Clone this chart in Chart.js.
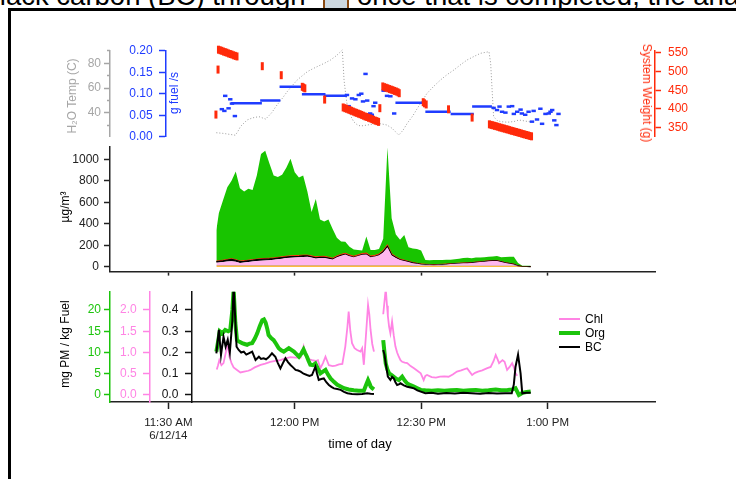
<!DOCTYPE html>
<html>
<head>
<meta charset="utf-8">
<script src="https://cdn.jsdelivr.net/npm/chart.js@4.4.1/dist/chart.umd.min.js"></script>
<style>
  body { margin: 0; background: #fff; font-family: 'Liberation Sans', Arial, sans-serif; }
  #page { position: relative; width: 736px; height: 479px; overflow: hidden; background: #fff; }
  canvas { position: absolute; left: 0; top: 0; }
  #frame { position: absolute; left: 8px; top: 8px; width: 900px; height: 700px; border-left: 3px solid #000; border-top: 3px solid #000; }
  .doc { position: absolute; top: -18.5px; font-size: 27.5px; line-height: 28px; white-space: nowrap; color: #000; }
  #pic { position: absolute; left: 323px; top: -5px; width: 22px; height: 13px; background: #ccd7df; border-left: 2.5px solid #8a4a12; border-right: 2.5px solid #8a4a12; }
  .ttl { position: absolute; font-size: 12px; white-space: nowrap; transform: translate(-50%, -50%) rotate(-90deg); }
  .ttl.cw { transform: translate(-50%, -50%) rotate(90deg); }
  .leg { position: absolute; font-size: 12px; line-height: 14px; }
  .legline { position: absolute; left: 559px; width: 21px; }
</style>
</head>
<body>
<div id="page">
  <div class="doc" style="left:-15.5px;">black carbon (BC) through</div>
  <div id="pic"></div>
  <div class="doc" style="left:357px;">once that is completed, the analysis</div>
  <div id="frame"></div>

  <canvas id="cTop" width="736" height="479"></canvas>
  <canvas id="cMid" width="736" height="479"></canvas>
  <canvas id="cBot" width="736" height="479"></canvas>

  <div class="ttl" style="left:72px; top:96px; color:#a6a6a6;">H₂O Temp (C)</div>
  <div class="ttl" style="left:174px; top:93px; color:#1f3cff;">g fuel /s</div>
  <div class="ttl cw" style="left:647px; top:93px; color:#ff2a0a;">System Weight (g)</div>
  <div class="ttl" style="left:65px; top:207px;">µg/m³</div>
  <div class="ttl" style="left:65px; top:344px;">mg PM / kg Fuel</div>
  <div style="position:absolute; left:360px; top:443px; transform:translate(-50%,-50%); font-size:13px; white-space:nowrap;">time of day</div>

  <div class="legline" style="top:318px; height:2px; background:#ff84e4;"></div>
  <div class="leg" style="left:585px; top:312px;">Chl</div>
  <div class="legline" style="top:331px; height:4px; background:#1cc40c;"></div>
  <div class="leg" style="left:585px; top:326px;">Org</div>
  <div class="legline" style="top:346px; height:2px; background:#000;"></div>
  <div class="leg" style="left:585px; top:340px;">BC</div>
</div>

<script>
// time axis: minutes after 11:30 AM on 6/12/14
const xMin = -13.84;
const xMax = 115.5;
const xTickMins = [0, 30, 60, 90];
const xTickLabels = [['11:30 AM', '6/12/14'], '12:00 PM', '12:30 PM', '1:00 PM'];

// ---- top panel ----
// water temperature (C)
const tempTime = [11.4, 13, 15.9, 16.5, 17.1, 18.7, 20, 21.5, 23.1, 24.5, 25.8, 27, 28.2, 29.4, 30.6, 31.8, 33, 34.2, 35.3, 37, 38.5, 40, 41.3, 41.7, 42.1, 42.5, 43.2, 44, 44.8, 45.6, 47.2, 48.5, 49.6, 50.8, 51.9, 53.1, 54, 54.7, 55.7, 56.7, 58, 59.1, 60.3, 61.4, 63, 64.6, 66.2, 67.8, 69.4, 70.9, 72.5, 74.1, 76.1, 76.5, 76.9, 77.2, 78, 78.9, 80.5, 82, 83.2, 85.6, 87];
const tempVal = [24, 23.5, 22, 25, 28.9, 34.3, 36, 37, 35, 40, 46.4, 51.5, 57.1, 62, 66.6, 70, 73.3, 75.5, 77.3, 80, 82.7, 86.5, 90.8, 66.6, 55, 45, 38, 32.9, 30.5, 29.4, 30.2, 31, 31.6, 31, 30.2, 27.6, 24.5, 22.1, 26, 31.6, 37.5, 43.7, 50, 55.8, 61.5, 66.6, 71, 74.7, 79, 82.7, 85.5, 88.1, 89.4, 80, 55, 37, 34, 32.9, 32.5, 33, 34.3, 32.9, 33];
const tempTicks = [40, 60, 80];
const tempMinorTicks = [30, 50, 70, 90];

// fuel burn rate (g fuel/s): averaged segments + single readings
const rateSegStart = [14.9, 21.8, 26.4, 31.7, 36.9, 53.9, 61.0, 67.0, 72.1];
const rateSegEnd = [22.2, 26.6, 31.7, 37.3, 42.4, 61.0, 67.0, 72.5, 76.8];
const rateSegVal = [0.078, 0.084, 0.116, 0.099, 0.095, 0.079, 0.058, 0.053, 0.070];
const rateDotTime = [13.5, 14.7, 12.7, 13.3, 14.3, 15.1, 15.8, 42.4, 42.8, 43.4, 43.6, 44.4, 45.2, 45.8, 46.2, 47.2, 46.8, 47.9, 48.3, 48.7, 49.1, 51.1, 51.9, 52.7, 53.3, 53.6, 77.2, 78.0, 78.6, 79.2, 80.0, 80.8, 81.6, 82.0, 82.8, 83.6, 83.9, 84.7, 85.5, 86.3, 86.7, 87.5, 88.3, 88.7, 89.5, 90.3, 90.7, 91.1, 91.6, 92.1, 92.6];
const rateDotVal = [0.095, 0.087, 0.064, 0.060, 0.066, 0.077, 0.048, 0.097, 0.071, 0.058, 0.089, 0.087, 0.097, 0.100, 0.082, 0.084, 0.146, 0.054, 0.051, 0.071, 0.079, 0.107, 0.095, 0.094, 0.105, 0.054, 0.067, 0.062, 0.070, 0.058, 0.056, 0.070, 0.071, 0.053, 0.058, 0.063, 0.054, 0.051, 0.058, 0.035, 0.060, 0.040, 0.065, 0.030, 0.053, 0.054, 0.058, 0.062, 0.038, 0.027, 0.053];
const rateTicks = [0, 0.05, 0.1, 0.15, 0.2];

// system weight (g)
const weightTime = [11.3, 11.8, 22.3, 26.8, 31.8, 32.1, 32.4, 37.1, 50.2, 60.5, 60.8, 61.2, 66.5, 72.1,
  11.9, 12.3, 12.7, 13.1, 13.5, 13.9, 14.3, 14.7, 15.1, 15.5, 15.9, 16.3,
  41.5, 41.9, 42.3, 42.7, 43.1, 43.5, 43.9, 44.3, 44.7, 45.1, 45.5, 45.9, 46.3, 46.7, 47.1, 47.5, 47.9, 48.3, 48.7, 49.1, 49.5, 49.9,
  50.9, 51.3, 51.7, 52.1, 52.5, 52.9, 53.3, 53.7, 54.1, 54.5, 54.8,
  76.2, 76.6, 77.0, 77.4, 77.8, 78.2, 78.6, 79.0, 79.4, 79.8, 80.2, 80.6, 81.0, 81.4, 81.8, 82.2, 82.6, 83.0, 83.4, 83.8, 84.2, 84.6, 85.0, 85.4, 85.8, 86.2];
const weightVal = [385, 505, 514, 490, 459, 457, 455, 425, 402, 418, 415, 412, 399, 377,
  558, 556.5, 555, 553, 551.5, 550, 548, 546.5, 545, 543, 541.5, 540,
  404, 402, 400.5, 398.5, 397, 395, 393, 391, 389.5, 387.5, 386, 384, 382, 380, 378.5, 376.5, 375, 373, 371, 369, 367.5, 365.5,
  460, 458, 456.5, 455, 453, 451.5, 450, 448, 446.5, 444.5, 442,
  359, 357.5, 356.5, 355, 354, 352.5, 351, 350, 348.5, 347.5, 346, 345, 343.5, 342, 341, 339.5, 338.5, 337, 336, 334.5, 333, 332, 330.5, 329.5, 328, 327];
const weightTicks = [350, 400, 450, 500, 550];

// ---- middle panel: stacked composition (ug/m3) ----
const compTime = [11.4, 12, 13, 14, 15, 16, 17, 18, 19, 20, 21, 22, 23, 24, 25, 26, 27, 28, 29, 30, 31, 32, 33, 34, 35, 36, 37, 38, 39, 40, 41, 42, 43, 44, 45, 46, 47, 48, 49, 50, 51, 52, 53, 54, 55, 56, 57, 58, 59, 60, 61, 62, 63, 64, 65, 66, 67, 68, 69, 70, 71, 72, 73, 74, 75, 76, 77, 78, 79, 80, 81, 82, 83, 84, 85, 86];
const nh4 = [12, 12, 12, 12, 12, 12, 12, 12, 12, 12, 12, 12, 12, 12, 12, 12, 12, 12, 12, 12, 12, 12, 12, 12, 12, 12, 12, 12, 12, 12, 12, 12, 12, 12, 12, 12, 12, 12, 12, 12, 12, 12, 12, 12, 12, 12, 12, 10, 10, 8, 8, 8, 8, 8, 8, 8, 8, 8, 8, 8, 8, 8, 8, 8, 8, 8, 8, 8, 8, 8, 8, 8, 4, 1, 1, 0];
const no3 = [3, 3, 3, 3, 3, 3, 3, 3, 3, 3, 3, 3, 3, 3, 3, 3, 3, 3, 3, 3, 3, 3, 3, 3, 3, 3, 3, 3, 3, 3, 3, 3, 3, 3, 3, 3, 3, 3, 3, 3, 3, 3, 3, 3, 3, 3, 3, 3, 3, 3, 3, 3, 3, 3, 3, 3, 3, 3, 3, 3, 3, 3, 3, 3, 3, 3, 3, 3, 3, 3, 3, 3, 2, 0, 0, 0];
const chl = [22, 23, 28, 33, 36, 31, 20, 23, 28, 34, 39, 41, 43, 45, 49, 55, 60, 65, 68, 71, 73, 76, 77, 70, 61, 65, 67, 60, 51, 72, 87, 98, 83, 72, 84, 96, 99, 74, 79, 91, 117, 165, 90, 66, 47, 37, 28, 20, 14, 10, 8, 6, 4, 6, 8, 10, 13, 16, 18, 20, 22, 24, 28, 32, 36, 40, 43, 43, 33, 23, 16, 10, 0, 0, 0, 0];
const bc = [10, 12, 12, 14, 18, 14, 12, 12, 12, 11, 11, 12, 12, 12, 11, 10, 10, 10, 10, 9, 9, 9, 8, 7, 7, 6, 6, 5, 4, 3, 3, 2, 2, 1, 1, 1, 1, 1, 1, 2, 8, 10, 5, 4, 3, 3, 2, 2, 1, 1, 1, 1, 1, 1, 1, 1, 1, 1, 1, 1, 1, 1, 1, 1, 1, 1, 1, 1, 1, 1, 1, 1, 1, 1, 1, 1];
const so4 = [5, 5, 6, 6, 6, 6, 6, 6, 6, 6, 6, 7, 7, 7, 7, 7, 7, 8, 8, 8, 8, 8, 8, 9, 9, 9, 9, 9, 9, 10, 10, 10, 10, 10, 10, 10, 12, 10, 10, 10, 10, 15, 10, 8, 6, 6, 5, 5, 4, 4, 3, 3, 3, 3, 3, 3, 3, 3, 3, 3, 3, 3, 3, 3, 3, 3, 3, 3, 3, 3, 3, 3, 1, 0, 0, 0];
const org = [288, 445, 559, 672, 725, 819, 677, 644, 664, 649, 779, 975, 1003, 881, 768, 748, 763, 822, 904, 777, 725, 742, 592, 409, 538, 345, 323, 351, 271, 170, 120, 108, 75, 62, 45, 28, 153, 55, 50, 47, 110, 905, 330, 207, 179, 234, 130, 130, 133, 124, 39, 39, 43, 41, 40, 39, 37, 39, 42, 45, 46, 39, 42, 39, 37, 37, 38, 42, 40, 52, 61, 68, 27, 6, 6, 9];
const concTicks = [0, 200, 400, 600, 800, 1000];

// ---- bottom panel: emission factors (mg PM / kg fuel) ----
const chlTime = [11.5, 11.8, 12.1, 12.6, 13.1, 13.6, 14.1, 14.5, 15.0, 15.5, 16.3, 17.1, 18.0, 19.0, 19.5, 20.5, 21.9, 23.0, 24.2, 25.4, 26.6, 27.8, 29.0, 30.2, 31.4, 32.1, 32.5, 32.9, 33.5, 34.1, 35.0, 35.5, 36.1, 36.7, 37.3, 37.7, 38.1, 39.0, 39.7, 40.5, 41.3, 42.0, 42.5, 42.8, 43.2, 43.6, 44.2, 44.8, 45.6, 46.0, 46.4, 46.9, 47.4, 47.7, 48.0, 48.4, 48.8, 50.0, 51.0, 51.3, 51.6, 51.9, 52.1, 52.4, 52.7, 53.1, 53.5, 53.9, 54.3, 54.7, 55.1, 55.5, 56.1, 56.7, 57.5, 58.3, 59.1, 59.9, 60.3, 60.6, 61.0, 61.4, 62.5, 63.5, 64.5, 65.5, 66.5, 67.5, 68.5, 69.5, 70.9, 71.5, 72.1, 72.8, 73.5, 74.5, 75.7, 76.5, 77.2, 77.7, 78.1, 78.5, 79.3, 79.8, 80.4, 81.0, 81.6, 82.0, 82.4, 82.8];
const chlVal = [0.60, 0.70, 0.82, 0.70, 0.75, 0.98, 1.22, 0.90, 0.75, 0.65, 0.59, 0.53, 0.55, 0.57, 0.59, 0.65, 0.71, 0.74, 0.78, 0.80, 0.82, 0.86, 0.89, 0.88, 0.88, 1.14, 0.95, 0.87, 0.84, 0.82, 0.80, 0.82, 0.63, 0.75, 0.90, 0.80, 0.70, 0.68, 0.69, 0.72, 0.73, 1.14, 1.6, 1.96, 1.5, 1.22, 1.10, 1.06, 1.02, 1.10, 0.71, 1.4, 2.12, 1.9, 1.53, 1.2, 1.02, null, 1.90, 2.2, 2.5, 2.1, 1.86, 1.6, 1.45, 1.73, 1.4, 1.14, 1.0, 0.90, 0.82, 0.78, 0.76, 0.75, 0.68, 0.63, 0.57, 0.51, 0.42, 0.35, 0.45, 0.47, 0.42, 0.41, 0.43, 0.44, 0.43, 0.48, 0.55, 0.58, 0.63, 0.55, 0.47, 0.52, 0.55, 0.58, 0.63, 0.66, 0.80, 0.94, 0.85, 0.75, 0.82, 0.78, 0.59, 0.66, 0.75, 0.65, 0.51, 0.45];
const orgTime = [11.4, 11.8, 12.2, 12.8, 13.5, 14.2, 14.7, 15.2, 15.5, 15.9, 16.3, 16.9, 17.5, 18.1, 18.7, 19.3, 19.9, 20.5, 21.1, 21.7, 22.3, 22.7, 23.1, 23.5, 23.8, 24.4, 25.0, 25.6, 26.2, 26.8, 27.4, 28.0, 28.6, 29.2, 29.8, 30.4, 31.0, 31.6, 32.1, 32.5, 32.9, 33.3, 33.7, 34.3, 34.9, 35.5, 36.1, 36.7, 37.3, 37.9, 38.5, 39.3, 40.1, 40.9, 41.7, 42.8, 44.0, 45.2, 46.4, 47.0, 47.4, 47.8, 48.0, 48.4, 48.8, 50.0, 51.0, 51.3, 51.6, 52.0, 52.4, 53.0, 53.5, 54.1, 54.7, 55.1, 55.5, 56.1, 56.7, 57.5, 58.3, 59.1, 59.9, 61, 62.5, 64, 65.5, 67, 68.5, 70, 71.5, 73, 74.5, 76, 77.7, 79, 80.5, 81.6, 82.4, 82.8, 83.2, 83.6, 84.0, 85.0, 86.0];
const orgVal = [10.2, 12.5, 15.0, 14.5, 15.3, 15.0, 15.3, 20, 24.8, 17, 12.9, 12.5, 12.2, 12.0, 11.8, 12.1, 12.2, 13.2, 14.5, 16.2, 17.6, 17.8, 17.0, 15.5, 14.1, 13.4, 12.9, 12.0, 11.0, 10.5, 10.2, 10.6, 11.0, 10.6, 10.2, 9.6, 9.0, 9.8, 10.7, 9.8, 9.0, 8.0, 7.1, 7.0, 7.4, 6.2, 5.1, 5.5, 5.9, 4.8, 3.9, 3.1, 2.4, 2.0, 1.6, 1.3, 1.1, 1.0, 1.0, 2.5, 3.5, 2.6, 2.0, 1.6, 1.3, null, 12.9, 10.0, 7.4, 6.0, 5.1, 4.7, 4.3, 3.8, 3.5, 3.9, 4.3, 3.4, 2.7, 2.3, 2.0, 1.6, 1.2, 1.1, 1.0, 1.1, 1.0, 1.1, 1.2, 1.0, 1.1, 1.2, 1.0, 1.1, 1.3, 1.1, 1.2, 1.3, 1.6, 0.8, 0.0, 0.2, 0.5, 0.7, 0.8];
const bcTime = [11.4, 12.0, 12.5, 13.1, 13.6, 14.1, 14.6, 15.2, 15.5, 15.9, 16.2, 16.7, 17.3, 17.9, 18.5, 19.1, 19.9, 20.7, 21.5, 22.0, 22.6, 23.2, 23.8, 24.6, 25.4, 26.0, 26.6, 27.2, 27.8, 28.4, 29.0, 29.6, 30.2, 30.8, 31.4, 32.1, 32.9, 33.5, 34.1, 34.9, 35.3, 35.7, 36.3, 36.9, 37.5, 38.1, 38.7, 39.3, 40.1, 40.9, 41.7, 42.5, 43.6, 44.8, 46.0, 47.2, 48.0, 48.8, 50.0, 51.0, 51.3, 51.6, 52.1, 52.7, 53.1, 53.5, 53.9, 54.3, 54.7, 55.1, 55.9, 56.7, 57.5, 58.3, 59.1, 59.9, 61.0, 62.5, 64, 66, 68, 70, 72, 74, 76, 78, 80, 81.5, 82.0, 82.4, 83.0, 83.6, 84.0, 85, 86];
const bcVal = [0.196, 0.306, 0.188, 0.274, 0.227, 0.26, 0.20, 0.35, 0.52, 0.35, 0.227, 0.212, 0.20, 0.204, 0.19, 0.196, 0.204, 0.165, 0.18, 0.17, 0.173, 0.168, 0.177, 0.196, 0.18, 0.15, 0.125, 0.15, 0.173, 0.155, 0.141, 0.13, 0.118, 0.115, 0.11, 0.10, 0.094, 0.09, 0.094, 0.133, 0.10, 0.071, 0.075, 0.078, 0.06, 0.047, 0.038, 0.031, 0.028, 0.024, 0.015, 0.008, 0.005, 0.003, 0.005, 0.008, 0.006, 0.005, null, 0.212, 0.19, 0.149, 0.086, 0.071, 0.085, 0.078, 0.06, 0.047, 0.05, 0.055, 0.045, 0.039, 0.035, 0.031, 0.022, 0.016, 0.008, 0.01, 0.006, 0.009, 0.007, 0.01, 0.008, 0.006, 0.009, 0.007, 0.008, 0.008, 0.05, 0.133, 0.19, 0.102, 0.008, 0.01, 0.01];
const orgTicks = [0, 5, 10, 15, 20];
const chlTicks = [0, 0.5, 1, 1.5, 2];
const bcTicks = [0, 0.1, 0.2, 0.3, 0.4];

// colours
const gray = '#a6a6a6';
const blue = '#1f3cff';
const red = '#ff2a0a';
const green = '#1cc40c';
const pinkLine = '#ff84e4';
const pinkFill = '#ffb6ee';
const orange = '#ffa200';
const lightBlue = '#6f78ff';

Chart.defaults.font.family = "'Liberation Sans', Arial, sans-serif";
Chart.defaults.font.size = 12;
Chart.defaults.color = '#000';
Chart.defaults.plugins.legend.display = false;
Chart.defaults.plugins.tooltip.enabled = false;

const pts = (xs, ys) => xs.map((x, i) => ({x: x, y: ys[i]}));
const pad = '    '; // dynamic y axes draw labels right at the axis line

function xScale(show) {
  return {
    type: 'linear', min: xMin, max: xMax, display: show, position: 'bottom',
    afterBuildTicks: s => { s.ticks = xTickMins.map(v => ({value: v})); }
  };
}

function yAxis(o) {
  return {
    type: 'linear', position: o.pos, min: o.min, max: o.max,
    afterBuildTicks: s => { s.ticks = o.ticks.map(v => ({value: v})); },
    afterFit: s => { s.width = 50; },
    border: {display: o.noBorder ? false : true, color: o.color, width: 1.5},
    grid: {drawOnChartArea: false, drawTicks: true, tickLength: o.tl || 6, tickColor: o.color, tickWidth: 1.5},
    ticks: {color: o.color, padding: o.padding || 3, autoSkip: false, callback: o.fmt}
  };
}

// top: temperature, burn rate, system weight
let rateSegData = [];
rateSegStart.forEach((s, i) => {
  rateSegData.push({x: s, y: rateSegVal[i]}, {x: rateSegEnd[i], y: rateSegVal[i]}, {x: rateSegEnd[i], y: null});
});

new Chart(document.getElementById('cTop'), {
  type: 'line',
  data: {
    datasets: [
      { label: 'System Weight', yAxisID: 'yW', data: pts(weightTime, weightVal), showLine: false,
        pointStyle: 'line', pointRotation: 90, pointRadius: 4, pointBorderWidth: 3, pointBorderColor: red, clip: false },
      { label: 'g fuel/s', yAxisID: 'yF', data: pts(rateDotTime, rateDotVal), showLine: false,
        pointStyle: 'line', pointRadius: 2.2, pointBorderWidth: 2.5, pointBorderColor: blue, clip: false },
      { label: 'g fuel/s avg', yAxisID: 'yF', data: rateSegData, borderColor: blue, borderWidth: 2.5, pointRadius: 0, clip: false },
      { label: 'H2O Temp', yAxisID: 'yT', data: pts(tempTime, tempVal), borderColor: '#9a9a9a', borderWidth: 1,
        borderDash: [1, 2], pointRadius: 0, clip: false }
    ]
  },
  options: {
    responsive: false, animation: false,
    layout: {padding: {left: 60, right: 31, top: 50.7, bottom: 342.3}},
    scales: {
      x: xScale(false),
      yT: yAxis({pos: 'left', min: 20.8, max: 90.2, ticks: tempTicks, color: gray, fmt: v => String(v)}),
      yTm: yAxis({pos: {x: xMin}, min: 20.8, max: 90.2, ticks: tempMinorTicks, color: gray, tl: 3, noBorder: true, fmt: () => ''}),
      yF: yAxis({pos: {x: -0.55}, min: 0, max: 0.2, ticks: rateTicks, color: blue, fmt: v => v.toFixed(2) + pad}),
      yW: yAxis({pos: 'right', min: 326, max: 555.3, ticks: weightTicks, color: red, padding: 7, fmt: v => String(v)})
    }
  }
});

// middle: stacked mass concentrations
function layer(name, vals, color, fill, bw) {
  return { label: name, data: pts(compTime, vals), backgroundColor: color, borderColor: color,
    borderWidth: bw || 0, pointRadius: 0, fill: fill };
}

new Chart(document.getElementById('cMid'), {
  type: 'line',
  data: {
    datasets: [
      layer('NH4', nh4, orange, 'origin'),
      layer('NO3', no3, lightBlue, '-1'),
      layer('Chl', chl, pinkFill, '-1'),
      layer('BC', bc, '#000', '-1', 1.2),
      layer('SO4', so4, red, '-1', 1),
      layer('Org', org, '#18c400', '-1')
    ]
  },
  options: {
    responsive: false, animation: false,
    layout: {padding: {left: 60, right: 81, top: 146.7, bottom: 197.4}},
    scales: {
      x: Object.assign(xScale(true), {
        afterFit: s => { s.height = 10; },
        border: {display: true, color: '#222', width: 1.5},
        grid: {drawOnChartArea: false, drawTicks: true, tickLength: 4, tickColor: '#222', tickWidth: 1.5},
        ticks: {display: false}
      }),
      y: Object.assign(yAxis({pos: 'left', min: -45.6, max: 1117, ticks: concTicks, color: '#222', padding: 5, fmt: v => String(v)}), {stacked: true})
    }
  }
});

// bottom: emission factors
new Chart(document.getElementById('cBot'), {
  type: 'line',
  data: {
    datasets: [
      { label: 'BC', yAxisID: 'yB', data: pts(bcTime, bcVal), borderColor: '#000', borderWidth: 2, pointRadius: 0 },
      { label: 'Org', yAxisID: 'yO', data: pts(orgTime, orgVal), borderColor: green, borderWidth: 4, pointRadius: 0 },
      { label: 'Chl', yAxisID: 'yC', data: pts(chlTime, chlVal), borderColor: pinkLine, borderWidth: 1.8, pointRadius: 0 }
    ]
  },
  options: {
    responsive: false, animation: false,
    layout: {padding: {left: 60, right: 81, top: 291.7, bottom: 37}},
    scales: {
      x: Object.assign(xScale(true), {
        afterFit: s => { s.height = 40; },
        border: {display: true, color: '#222', width: 1.5},
        grid: {drawOnChartArea: false, drawTicks: true, tickLength: 7, tickColor: '#222', tickWidth: 1.5},
        ticks: {color: '#222', padding: 7, autoSkip: false, maxRotation: 0,
          font: {size: 11.5, lineHeight: 1.15},
          callback: v => xTickLabels[xTickMins.indexOf(v)]}
      }),
      yO: yAxis({pos: 'left', min: -1.65, max: 24.3, ticks: orgTicks, color: green, fmt: v => String(v)}),
      yC: yAxis({pos: {x: -4.35}, min: -0.165, max: 2.43, ticks: chlTicks, color: pinkLine, fmt: v => v.toFixed(1) + pad}),
      yB: yAxis({pos: {x: 5.55}, min: -0.033, max: 0.486, ticks: bcTicks, color: '#111', fmt: v => v.toFixed(1) + pad})
    }
  }
});
</script>
</body>
</html>
